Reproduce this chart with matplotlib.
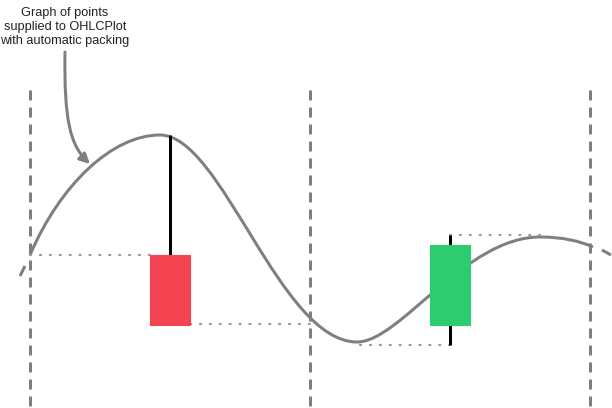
import matplotlib
matplotlib.use("Agg")
import matplotlib.pyplot as plt
from matplotlib.path import Path
from matplotlib.patches import PathPatch, FancyArrowPatch, Rectangle

# ---- data (pixel coordinates of the diagram) ----
divider_x = [30, 310, 590]
divider_top = 90

# curve: cubic Bezier anchor/control points
curve_pts = [(30, 255),
             (60, 185), (112, 135), (160, 135),
             (222, 135), (280, 342), (357, 342),
             (400, 342), (465, 237), (540, 237),
             (562, 237), (580, 241), (593, 247)]
curve_start_dash = [(20, 276), (25, 266)]
curve_end_dash = [(602, 250), (611, 255)]

# candles: x-center, open, high, low, close
candle_x = [170, 450]
candle_open = [255, 325]
candle_close = [325, 245]
candle_high = [135, 235]
candle_low = [325, 345]
candle_colors = ["#f44451", "#2ecc71"]
candle_width = 40

# dotted guide lines: (x0, x1, y)
guides = [(30, 150, 255), (190, 310, 324), (360, 450, 345), (450, 545, 235)]

label = "Graph of points\nsupplied to OHLCPlot\nwith automatic packing"
arrow_pts = [(65, 52), (64, 120), (70, 145), (90, 164)]

px = 0.72  # points per pixel at dpi 100
gray = "#7f7f7f"

fig = plt.figure(figsize=(6.12, 4.08), dpi=100)
ax = fig.add_axes([0, 0, 1, 1])
ax.set_xlim(0, 612)
ax.set_ylim(408, 0)
ax.axis("off")

# dividers
for x in divider_x:
    ax.plot([x, x], [divider_top, 410], color=gray, lw=3 * px,
            linestyle=(0, (10 / 3, 7 / 3)), solid_capstyle="butt", dash_capstyle="butt")

# dotted guides
for x0, x1, y in guides:
    ax.plot([x0, x1], [y, y], color="#999999", lw=2.2 * px,
            linestyle=(0, (0.5, 4)), dash_capstyle="round")

# curve
codes = [Path.MOVETO] + [Path.CURVE4] * (len(curve_pts) - 1)
ax.add_patch(PathPatch(Path(curve_pts, codes), fill=False, edgecolor=gray, lw=3 * px))
for seg in (curve_start_dash, curve_end_dash):
    xs, ys = zip(*seg)
    ax.plot(xs, ys, color=gray, lw=3 * px, solid_capstyle="butt")

# candles
for x, o, h, l, c, col in zip(candle_x, candle_open, candle_high, candle_low, candle_close, candle_colors):
    ax.plot([x, x], [h, l], color="black", lw=3 * px, zorder=3, solid_capstyle="butt")
    top = min(o, c)
    ax.add_patch(Rectangle((x - candle_width / 2, top), candle_width, abs(c - o),
                           facecolor=col, edgecolor=col, lw=0.8, zorder=4))

# annotation
ax.text(65, 27, label, ha="center", va="center", fontsize=9.2,
        family="Liberation Sans", color="#222222", linespacing=1.25)
acodes = [Path.MOVETO, Path.CURVE4, Path.CURVE4, Path.CURVE4]
ax.add_patch(FancyArrowPatch(path=Path(arrow_pts, acodes), arrowstyle="-|>",
                             mutation_scale=15, color=gray, lw=3 * px))

fig.savefig("out.png", dpi=100)
